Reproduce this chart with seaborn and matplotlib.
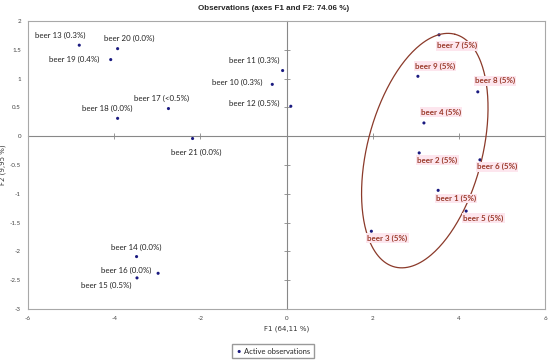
# =========================
# Libraries
# =========================

import numpy as np
import pandas as pd
import matplotlib.pyplot as plt
import seaborn as sns

# =========================
# Data (PCA observations, F1 / F2)
# =========================

beers = ["beer 1", "beer 2", "beer 3", "beer 4", "beer 5", "beer 6", "beer 7",
         "beer 8", "beer 9", "beer 10", "beer 11", "beer 12", "beer 13", "beer 14",
         "beer 15", "beer 16", "beer 17", "beer 18", "beer 19", "beer 20", "beer 21"]
f1 = [3.52, 3.08, 1.97, 3.19, 4.17, 4.49, 3.54, 4.44, 3.05, -0.33, -0.09, 0.10,
      -4.81, -3.48, -3.47, -2.98, -2.74, -3.92, -4.08, -3.92, -2.18]
f2 = [-0.94, -0.29, -1.65, 0.23, -1.30, -0.41, 1.76, 0.77, 1.04, 0.90, 1.14, 0.52,
      1.58, -2.09, -2.46, -2.38, 0.48, 0.31, 1.33, 1.52, -0.04]
shares = ["5%", "5%", "5%", "5%", "5%", "5%", "5%", "5%", "5%", "0.3%", "0.3%", "0.5%",
          "0.3%", "0.0%", "0.5%", "0.0%", "<0.5%", "0.0%", "0.4%", "0.0%", "0.0%"]
highlighted = ["beer 1", "beer 2", "beer 3", "beer 4", "beer 5", "beer 6", "beer 7",
               "beer 8", "beer 9"]

x_ticks = [-6, -4, -2, 0, 2, 4, 6]
y_ticks = [-3, -2.5, -2, -1.5, -1, -0.5, 0, 0.5, 1, 1.5, 2]

data = pd.DataFrame({"beer": beers, "F1": f1, "F2": f2, "share": shares})

# label placement (offset in pixels, horizontal alignment)
label_pos = {
    "beer 1": (-2, -8, "left"), "beer 2": (-2, -7, "left"), "beer 3": (-4, -7, "left"),
    "beer 4": (-3, 11, "left"), "beer 5": (-3, -7, "left"), "beer 6": (-3, -7, "left"),
    "beer 7": (-2, -11, "left"), "beer 8": (-3, 11, "left"), "beer 9": (-3, 10, "left"),
    "beer 10": (-10, 2, "right"), "beer 11": (-3, 10, "right"), "beer 12": (-11, 3, "right"),
    "beer 13": (-19, 10, "center"), "beer 14": (0, 9, "center"), "beer 15": (-6, -8, "right"),
    "beer 16": (-7, 3, "right"), "beer 17": (-7, 10, "center"), "beer 18": (-10, 10, "center"),
    "beer 19": (-11, 0, "right"), "beer 20": (12, 10, "center"), "beer 21": (4, -14, "center"),
}

# =========================
# Figure
# =========================

sns.set_style("white")
plt.rcParams["font.family"] = ["Lato", "DejaVu Sans"]

fig = plt.figure(figsize=(5.5, 3.61), dpi=100)
ax = fig.add_axes([28 / 550, 1 - 309 / 361, 517 / 550, 288 / 361])

sns.scatterplot(data=data, x="F1", y="F2", ax=ax, color="#1a1a80", s=5,
                edgecolor="none", label="Active observations", legend=False)

ax.set_xlim(-6, 6)
ax.set_ylim(-3, 2)
ax.set_xticks(x_ticks)
ax.set_yticks(y_ticks)
ax.set_xticklabels([str(t) for t in x_ticks])
ax.set_yticklabels([f"{t:g}" for t in y_ticks])
ax.tick_params(length=0, labelsize=4.5, colors="#444444", pad=5)

for s in ax.spines.values():
    s.set_color("#a8a8a8")
    s.set_linewidth(0.8)

# axes crossing at the origin
sec_y = ax.secondary_yaxis(0.5)
sec_y.set_yticks(y_ticks, labels=[])
sec_y.tick_params(direction="inout", length=4, color="#888888", width=0.6)
for s in sec_y.spines.values():
    s.set_color("#888888")
    s.set_linewidth(0.8)

sec_x = ax.secondary_xaxis(0.6)
sec_x.set_xticks(x_ticks, labels=[])
sec_x.tick_params(direction="inout", length=4, color="#888888", width=0.6)
for s in sec_x.spines.values():
    s.set_color("#888888")
    s.set_linewidth(0.8)

# =========================
# Labels
# =========================

for _, row in data.iterrows():
    dx, dy, ha = label_pos[row["beer"]]
    text = f"{row['beer']} ({row['share']})"
    if row["beer"] in highlighted:
        ax.annotate(text, (row["F1"], row["F2"]), xytext=(dx, dy), textcoords="offset pixels",
                    ha=ha, va="center", fontsize=5.8, color="#9b3b2b", fontweight="bold",
                    bbox=dict(boxstyle="square,pad=0.15", fc="#fde6ee", ec="none"))
    else:
        ax.annotate(text, (row["F1"], row["F2"]), xytext=(dx, dy), textcoords="offset pixels",
                    ha=ha, va="center", fontsize=5.7, color="#222222")

# =========================
# Ellipse around the highlighted group
# =========================

center = np.array([3.21, -0.25])
major = np.array([0.70, 2.02])
minor = np.array([1.29, -0.25])
t = np.linspace(0, 2 * np.pi, 300)
ell = center[:, None] + major[:, None] * np.cos(t) + minor[:, None] * np.sin(t)
ax.plot(ell[0], ell[1], color="#8b3a2a", lw=0.9, zorder=1)

# =========================
# Titles and legend
# =========================

fig.text(274 / 550, 1 - 8 / 361, "Observations (axes F1 and F2: 74.06 %)",
         ha="center", va="center", fontsize=5.8, fontweight="bold", family="Liberation Sans")
ax.set_xlabel("F1 (64,11 %)", fontsize=5, color="#333333", labelpad=3, family="DejaVu Sans")
ax.set_ylabel("F2 (9,95 %)", fontsize=5, color="#333333", labelpad=3, family="DejaVu Sans")

fig.legend(handles=ax.collections[:1], labels=["Active observations"],
           loc="center", bbox_to_anchor=(273 / 550, 1 - 351 / 361), fontsize=5.5,
           markerscale=1.0, handletextpad=0.2, handlelength=0.8, borderpad=0.5,
           fancybox=False, edgecolor="#999999", framealpha=1)

fig.savefig("out.png", dpi=100)
